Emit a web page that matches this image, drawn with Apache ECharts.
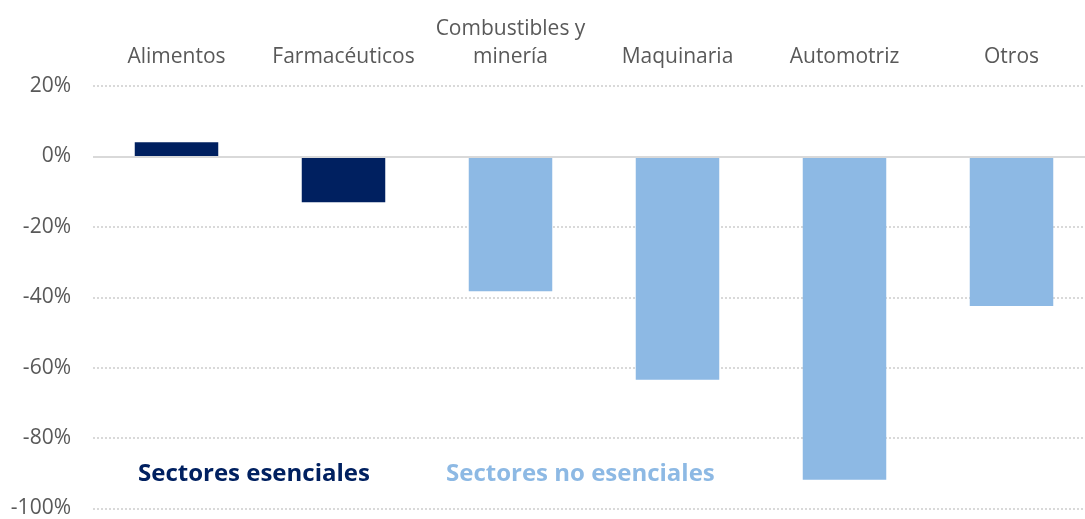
<!DOCTYPE html>
<html>
<head>
<meta charset="utf-8">
<script src="https://cdn.jsdelivr.net/npm/echarts@6/dist/echarts.min.js"></script>
<style>
  html, body { margin: 0; padding: 0; background: #fff; overflow: hidden; }
  #main { width: 1095px; height: 519px; }
</style>
</head>
<body>
<div id="main"></div>
<script>
// categorías y valores (%)
var categorias = ['Alimentos', 'Farmacéuticos', 'Combustibles y\nminería', 'Maquinaria', 'Automotriz', 'Otros'];
var valores = [4, -13, -38.3, -63.4, -91.8, -42.5];
var esencial = [true, true, false, false, false, false];

var colorEsencial = '#002060';
var colorNoEsencial = '#8DB9E4';

var chart = echarts.init(document.getElementById('main'));

var datos = valores.map(function (v, i) {
    return { value: v, itemStyle: { color: esencial[i] ? colorEsencial : colorNoEsencial } };
});

var option = {
    animation: false,
    // el gráfico sigue un poco más allá del borde derecho
    grid: { left: 93, top: 86, width: 1002, height: 426 },
    xAxis: {
        type: 'category',
        position: 'top',
        data: categorias,
        axisLine: { show: false },
        axisTick: { show: false },
        axisLabel: {
            color: '#595959',
            fontFamily: 'Open Sans',
            fontSize: 21,
            lineHeight: 28,
            margin: 15,
            interval: 0
        }
    },
    yAxis: {
        type: 'value',
        min: -100,
        max: 20,
        interval: 20,
        axisLine: { show: false },
        axisTick: { show: false },
        axisLabel: {
            formatter: '{value}%',
            color: '#595959',
            fontFamily: 'Open Sans',
            fontSize: 21,
            margin: 22
        },
        splitLine: {
            lineStyle: { color: '#d9d9d9', width: 2, type: [2, 2] }
        }
    },
    series: [{
        type: 'bar',
        barWidth: '50%',
        data: datos,
        markLine: {
            silent: true,
            symbol: 'none',
            label: { show: false },
            lineStyle: { color: '#d9d9d9', width: 2, type: 'solid' },
            data: [{ yAxis: 0 }]
        }
    }],
    graphic: [
        {
            type: 'text', left: 138, top: 462,
            style: { text: 'Sectores esenciales', fill: colorEsencial, font: 'bold 24px "Open Sans"' }
        },
        {
            type: 'text', left: 446, top: 462,
            style: { text: 'Sectores no esenciales', fill: colorNoEsencial, font: 'bold 24px "Open Sans"' }
        }
    ]
};

chart.setOption(option);
</script>
</body>
</html>
